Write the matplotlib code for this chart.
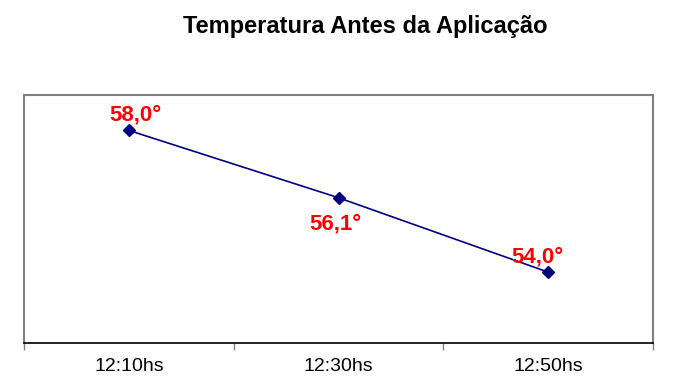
import matplotlib
matplotlib.use("Agg")
import matplotlib.pyplot as plt

horarios = ["12:10hs", "12:30hs", "12:50hs"]
temperaturas = [58.0, 56.1, 54.0]
rotulos = ["58,0°", "56,1°", "54,0°"]
# deslocamento dos rotulos (pontos): acima, abaixo, acima
desloc = [(5, 11), (-2, -19), (-8, 11)]

plt.rcParams["font.family"] = ["Liberation Sans", "DejaVu Sans"]

fig = plt.figure(figsize=(6.75, 3.88), dpi=100)
ax = fig.add_axes([24 / 675, 45 / 388, 629 / 675, 248 / 388])

x = list(range(len(horarios)))
ax.plot(x, temperaturas, color="#000080", linewidth=1.2,
        marker="D", markersize=6, markerfacecolor="#000080",
        markeredgecolor="#000080", zorder=3)

for xi, yi, txt, (dx, dy) in zip(x, temperaturas, rotulos, desloc):
    ax.annotate(txt, (xi, yi), xytext=(dx, dy), textcoords="offset points",
                ha="center", va="center", color="#ff0000",
                fontsize=16, fontweight="bold")

ax.set_xlim(-0.5, len(horarios) - 0.5)
ax.set_ylim(52, 59)
ax.set_yticks([])
ax.set_xticks(x)
ax.set_xticklabels(horarios, fontsize=14)
ax.tick_params(axis="x", which="major", length=0, pad=11)
ax.set_xticks([i - 0.5 for i in range(len(horarios) + 1)], minor=True)
ax.tick_params(axis="x", which="minor", length=5, color="#808080", width=1)

for lado in ["top", "left", "right"]:
    ax.spines[lado].set_color("#808080")
    ax.spines[lado].set_linewidth(1.5)
ax.spines["bottom"].set_color("black")
ax.spines["bottom"].set_linewidth(1.2)

fig.text(365 / 675, 1 - 26 / 388, "Temperatura Antes da Aplicação",
         ha="center", va="center", fontsize=17, fontweight="bold")

fig.savefig("out.png", dpi=100)
